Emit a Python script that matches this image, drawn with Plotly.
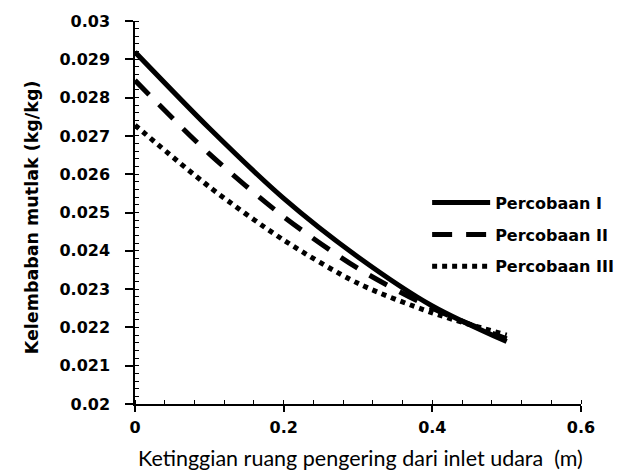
import plotly.graph_objects as go

# ---- data ----
x_pos = [0, 0.1, 0.2, 0.3, 0.4, 0.5]
percobaan_1 = [0.02919, 0.02720, 0.02537, 0.02384, 0.02256, 0.02163]
percobaan_2 = [0.02845, 0.02653, 0.02489, 0.02354, 0.02250, 0.02170]
percobaan_3 = [0.02728, 0.02567, 0.02428, 0.02315, 0.02238, 0.02180]
series_names = ["Percobaan I", "Percobaan II", "Percobaan III"]

y_tickvals = [0.02, 0.021, 0.022, 0.023, 0.024, 0.025, 0.026, 0.027, 0.028, 0.029, 0.03]
y_ticktext = ["0.02", "0.021", "0.022", "0.023", "0.024", "0.025", "0.026", "0.027", "0.028", "0.029", "0.03"]
x_tickvals = [0, 0.2, 0.4, 0.6]
x_ticktext = ["0", "0.2", "0.4", "0.6"]

x_title = "Ketinggian ruang pengering dari inlet udara  (m)"
y_title = "Kelembaban mutlak (kg/kg)"

W, H = 626, 473
L, R, T, B = 135, 45, 21, 69

tick_font = dict(family="DejaVu Sans", size=16, color="black", weight="bold")

fig = go.Figure()
styles = [dict(dash="solid"), dict(dash="20px,14px"), dict(dash="5px,5px")]
for i, (name, ys, st) in enumerate(zip(series_names, [percobaan_1, percobaan_2, percobaan_3], styles)):
    fig.add_trace(go.Scatter(
        x=x_pos, y=ys, name=name, mode="lines", legendgroup=f"g{i}",
        line=dict(color="black", width=5, dash=st["dash"], shape="spline", smoothing=0.8),
    ))

fig.update_layout(
    width=W, height=H,
    margin=dict(l=L, r=R, t=T, b=B, autoexpand=False),
    paper_bgcolor="white", plot_bgcolor="white",
    showlegend=True,
    legend=dict(
        x=0.655, y=0.57, xanchor="left", yanchor="top",
        bgcolor="rgba(0,0,0,0)", tracegroupgap=8, itemwidth=58,
        font=dict(family="DejaVu Sans", size=16, color="black", weight="bold"),
    ),
    xaxis=dict(
        range=[0, 0.6], tickvals=x_tickvals, ticktext=x_ticktext, automargin=False,
        showgrid=False, zeroline=False, showline=True, linecolor="black", linewidth=1.5,
        ticks="outside", ticklen=6, tickwidth=1.5, tickcolor="black",
        minor=dict(dtick=0.04, ticks="inside", ticklen=4, tickwidth=1.2, tickcolor="black", showgrid=False),
        tickfont=tick_font, ticklabelstandoff=2,
    ),
    yaxis=dict(
        range=[0.02, 0.03], tickvals=y_tickvals, ticktext=y_ticktext, automargin=False,
        showgrid=False, zeroline=False, showline=True, linecolor="black", linewidth=1.5,
        ticks="outside", ticklen=8, tickwidth=1.5, tickcolor="black",
        minor=dict(dtick=0.0002, ticks="inside", ticklen=4, tickwidth=1.2, tickcolor="black", showgrid=False),
        tickfont=tick_font, ticklabelstandoff=12,
    ),
    xaxis2=dict(
        overlaying="x", matches="x", range=[0, 0.6], tickvals=x_tickvals, showticklabels=False,
        showgrid=False, zeroline=False, showline=False,
        ticks="inside", ticklen=6, tickwidth=1.5, tickcolor="black", anchor="y",
    ),
    yaxis2=dict(
        overlaying="y", range=[0.02, 0.03], tickvals=y_tickvals, showticklabels=False,
        showgrid=False, zeroline=False, showline=False,
        ticks="inside", ticklen=5, tickwidth=1.5, tickcolor="black", anchor="x",
    ),
    annotations=[
        dict(text=x_title, xref="paper", yref="paper", x=0.505, y=-0.141,
             xanchor="center", yanchor="middle", showarrow=False,
             font=dict(family="Lato", size=21.5, color="black")),
        dict(text=y_title, xref="paper", yref="paper", x=-0.229, y=0.487,
             xanchor="center", yanchor="middle", showarrow=False, textangle=-90,
             font=dict(family="DejaVu Sans", size=17.5, color="black", weight="bold")),
    ],
)

fig.write_html("out.html", config={"displayModeBar": False},
               post_script="document.body.style.margin='0';")
